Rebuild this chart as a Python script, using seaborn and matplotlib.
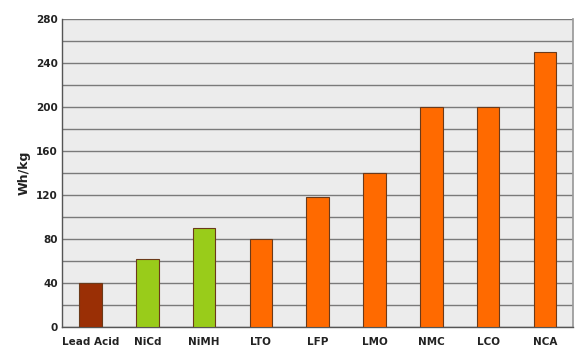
import matplotlib
matplotlib.use("Agg")
import matplotlib.pyplot as plt
import seaborn as sns
import pandas as pd

# Energia específica por química de bateria
quimicas = ["Lead Acid", "NiCd", "NiMH", "LTO", "LFP", "LMO", "NMC", "LCO", "NCA"]
wh_kg = [40, 62, 90, 80, 118, 140, 200, 200, 250]
cores = ["#9a2f05", "#99cc1a", "#99cc1a", "#ff6a00", "#ff6a00",
         "#ff6a00", "#ff6a00", "#ff6a00", "#ff6a00"]
yticks = [0, 40, 80, 120, 160, 200, 240, 280]

df = pd.DataFrame({"quimica": quimicas, "wh_kg": wh_kg})

sns.set_theme(style="white")
plt.rcParams["font.family"] = ["DejaVu Sans"]

fig = plt.figure(figsize=(5.75, 3.48), dpi=100)
ax = fig.add_axes([0.108, 0.06, 0.889, 0.885])
ax.set_facecolor("#ececec")

sns.barplot(data=df, x="quimica", y="wh_kg", hue="quimica", palette=cores,
            legend=False, width=0.4, edgecolor="#6b3a1a", linewidth=0.8,
            saturation=1, ax=ax, zorder=3)

ax.set_ylim(0, 280)
ax.set_xlim(-0.5, len(quimicas) - 0.5)
ax.set_yticks(yticks)
ax.set_yticks(range(20, 281, 40), minor=True)
ax.yaxis.grid(True, which="both", color="#7a7a7a", linewidth=1.0, zorder=0)
ax.set_axisbelow(True)

ax.set_xlabel("")
ax.set_ylabel("Wh/kg", fontsize=9, fontweight="bold", color="#222222")
ax.tick_params(axis="both", labelsize=7.5, colors="#222222", length=0, pad=3)
ax.tick_params(axis="x", pad=7)
ax.tick_params(axis="y", which="minor", length=0)
for lbl in ax.get_xticklabels() + ax.get_yticklabels():
    lbl.set_fontweight("bold")

for side in ["left", "bottom"]:
    ax.spines[side].set_color("#555555")
    ax.spines[side].set_linewidth(1.0)
ax.spines["top"].set_visible(False)
ax.spines["right"].set_color("#9a9a9a")

fig.savefig("out.png", dpi=100)
